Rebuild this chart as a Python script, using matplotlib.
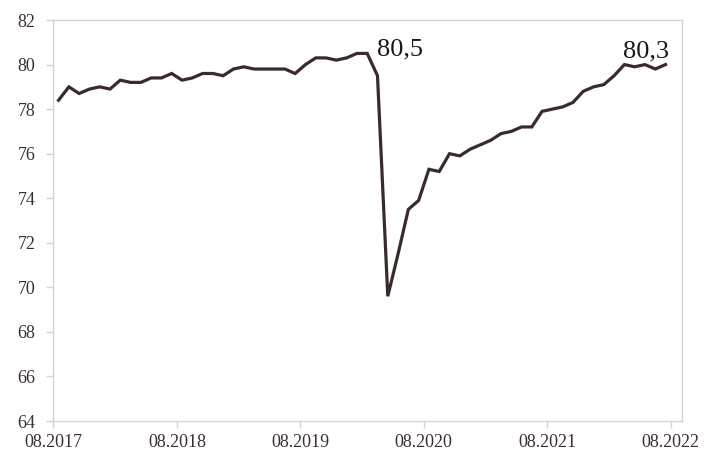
import numpy as np
import matplotlib.pyplot as plt

# mesecne vrednosti, 08.2017 - 07.2022
vrednosti = [78.4, 79.0, 78.7, 78.9, 79.0, 78.9, 79.3, 79.2, 79.2, 79.4,
             79.4, 79.6, 79.3, 79.4, 79.6, 79.6, 79.5, 79.8, 79.9, 79.8,
             79.8, 79.8, 79.8, 79.6, 80.0, 80.3, 80.3, 80.2, 80.3, 80.5,
             80.5, 79.5, 69.6, 71.5, 73.5, 73.9, 75.3, 75.2, 76.0, 75.9,
             76.2, 76.4, 76.6, 76.9, 77.0, 77.2, 77.2, 77.9, 78.0, 78.1,
             78.3, 78.8, 79.0, 79.1, 79.5, 80.0, 79.9, 80.0, 79.8, 80.0]
oznake_x = ['08.2017', '08.2018', '08.2019', '08.2020', '08.2021', '08.2022']
oznake_y = [64, 66, 68, 70, 72, 74, 76, 78, 80, 82]
natpisi = [('80,5', 31.5, 80.43), ('80,3', 55.4, 80.34)]

boja_linije = '#3a2b2b'
boja_teksta = '#3b2f2f'
boja_okvira = '#dcd2cc'

plt.rcParams['font.family'] = ['Liberation Serif', 'DejaVu Serif']

fig = plt.figure(figsize=(7.22, 4.55), dpi=100)
ax = fig.add_axes([0.074, 0.0747, 0.8706, 0.8813])

x = np.arange(len(vrednosti)) + 0.5
ax.plot(x, vrednosti, color=boja_linije, lw=2.3, solid_joinstyle='miter')

for tekst, xt, yt in natpisi:
    ax.text(xt, yt, tekst, fontsize=19, color='#1e1616', ha='left', va='baseline')

ax.set_xlim(0, 61.1)
ax.set_ylim(64, 82)
ax.set_xticks(np.arange(0, 61, 12))
ax.set_xticklabels(oznake_x)
ax.set_yticks(oznake_y)
ax.set_yticklabels([str(v) for v in oznake_y])

for s in ax.spines.values():
    s.set_color(boja_okvira)
    s.set_linewidth(1.0)
ax.tick_params(colors=boja_okvira, labelcolor=boja_teksta, labelsize=13,
               length=5, width=1.0, direction='out')
ax.tick_params(axis='y', pad=8)
ax.tick_params(axis='x', pad=4)

fig.savefig('out.png', dpi=100)
